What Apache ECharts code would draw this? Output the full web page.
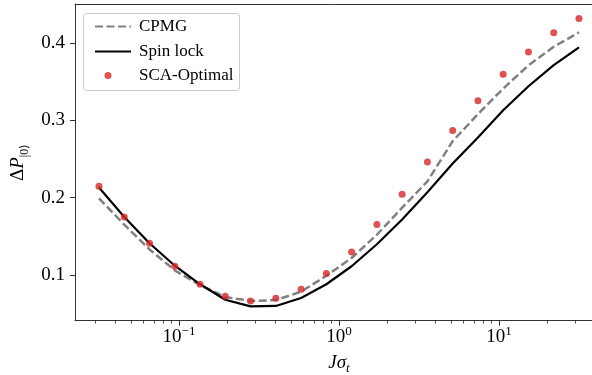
<!DOCTYPE html>
<html>
<head>
<meta charset="utf-8">
<script src="https://cdn.jsdelivr.net/npm/echarts@6/dist/echarts.min.js"></script>
<style>
html,body{margin:0;padding:0;background:#fff;}
#main{width:592px;height:375px;}
</style>
</head>
<body>
<div id="main"></div>
<script>
// J*sigma_t sample positions (log-spaced)
const jSigma = [0.03162, 0.04549, 0.06543, 0.09412, 0.1354, 0.1947, 0.2801, 0.4029, 0.5796, 0.8337,
                1.199, 1.725, 2.481, 3.569, 5.134, 7.385, 10.62, 15.28, 21.98, 31.61];
const cpmg     = [0.199, 0.165, 0.133, 0.106, 0.087, 0.0715, 0.0665, 0.0675, 0.0785, 0.099,
                  0.122, 0.152, 0.187, 0.221, 0.273, 0.308, 0.341, 0.371, 0.395, 0.4136];
const spinLock = [0.213, 0.175, 0.141, 0.112, 0.088, 0.068, 0.0595, 0.060, 0.0703, 0.088,
                  0.1113, 0.1397, 0.1717, 0.207, 0.244, 0.2777, 0.313, 0.344, 0.3713, 0.3942];
const scaOptimal = [0.2148, 0.175, 0.141, 0.1113, 0.088, 0.0725, 0.0664, 0.0699, 0.0816, 0.1018,
                    0.1298, 0.1652, 0.2044, 0.2462, 0.2868, 0.3251, 0.3596, 0.3881, 0.4131, 0.4317];
const xMajorTicks = [0.1, 1, 10];
const xMinorTicks = [0.03, 0.04, 0.05, 0.06, 0.07, 0.08, 0.09,
                     0.2, 0.3, 0.4, 0.5, 0.6, 0.7, 0.8, 0.9,
                     2, 3, 4, 5, 6, 7, 8, 9, 20, 30, 40];
const yTicks = [0.1, 0.2, 0.3, 0.4];
const seriesNames = ['CPMG', 'Spin lock', 'SCA-Optimal'];

const FONT = "'Liberation Serif','Times New Roman',serif";
const XMIN = Math.pow(10, -1.65), XMAX = Math.pow(10, 1.65);
const YMIN = 0.0409, YMAX = 0.4503;

const pairs = arr => jSigma.map((x, i) => [x, arr[i]]);
const supMap = {'-1': '\u22121', '0': '0', '1': '1'};

const chart = echarts.init(document.getElementById('main'), null, {renderer: 'canvas'});
chart.setOption({
  animation: false,
  backgroundColor: '#fff',
  grid: {left: 75, top: 4, width: 528, height: 316.7, containLabel: false, outerBoundsMode: 'none'},
  xAxis: [
    {
      type: 'log', logBase: 10, min: XMIN, max: XMAX, position: 'bottom',
      name: '{i|J\u03c3}{s|t}', nameLocation: 'middle', nameGap: 30,
      nameTextStyle: {
        color: '#000', fontFamily: FONT,
        rich: {
          i: {fontFamily: FONT, fontStyle: 'italic', fontSize: 19, lineHeight: 24, color: '#000'},
          s: {fontFamily: FONT, fontStyle: 'italic', fontSize: 13, lineHeight: 24, verticalAlign: 'bottom', color: '#000'}
        }
      },
      axisLine: {show: true, lineStyle: {color: '#333', width: 1}},
      axisTick: {show: true, inside: false, length: 5, customValues: xMajorTicks, lineStyle: {color: '#333', width: 1}},
      axisLabel: {
        show: true, margin: 4, customValues: xMajorTicks,
        formatter: v => {
          const e = String(Math.round(Math.log10(v)));
          return '{b|10}{s|' + (supMap[e] || e) + '}';
        },
        rich: {
          b: {fontFamily: FONT, fontSize: 19, lineHeight: 24, color: '#000'},
          s: {fontFamily: FONT, fontSize: 13, lineHeight: 24, verticalAlign: 'top', color: '#000'}
        }
      },
      splitLine: {show: false}
    },
    {
      type: 'log', logBase: 10, min: XMIN, max: XMAX, position: 'bottom',
      axisLine: {show: false},
      axisTick: {show: true, inside: false, length: 3, customValues: xMinorTicks, lineStyle: {color: '#333', width: 0.8}},
      axisLabel: {show: false},
      splitLine: {show: false}
    },
    {
      type: 'value', min: 0, max: 1, position: 'top',
      axisLine: {show: true, lineStyle: {color: '#333', width: 1}},
      axisTick: {show: false}, axisLabel: {show: false}, splitLine: {show: false}
    }
  ],
  yAxis: {
    type: 'value', min: YMIN, max: YMAX,
    name: '{d|\u0394}{i|P}{s||0\u27e9}', nameLocation: 'middle', nameGap: 42, nameRotate: 90,
    nameTextStyle: {
      color: '#000', fontFamily: FONT,
      rich: {
        d: {fontFamily: FONT, fontSize: 19, lineHeight: 24, color: '#000'},
        i: {fontFamily: FONT, fontStyle: 'italic', fontSize: 19, lineHeight: 24, color: '#000'},
        s: {fontFamily: FONT, fontSize: 12, lineHeight: 24, verticalAlign: 'bottom', color: '#000'}
      }
    },
    axisLine: {show: true, lineStyle: {color: '#333', width: 1}},
    axisTick: {show: true, inside: false, length: 5, customValues: yTicks, lineStyle: {color: '#333', width: 1}},
    axisLabel: {
      show: true, margin: 10, customValues: yTicks,
      formatter: v => v.toFixed(1),
      fontFamily: FONT, fontSize: 19, color: '#000'
    },
    splitLine: {show: false}
  },
  legend: [
    {
      data: ['CPMG', 'Spin lock'], orient: 'vertical', left: 89, top: 13,
      itemWidth: 36, itemHeight: 14, itemGap: 8,
      itemStyle: {opacity: 0},
      textStyle: {fontFamily: FONT, fontSize: 17, color: '#000', padding: [0, 0, 0, 3]}
    },
    {
      data: ['SCA-Optimal'], orient: 'vertical', left: 99.5, top: 62,
      itemWidth: 36, itemHeight: 7,
      textStyle: {fontFamily: FONT, fontSize: 17, color: '#000', padding: [0, 0, 0, 8]}
    }
  ],
  graphic: [{
    type: 'rect', left: 83, top: 13, z: 0,
    shape: {width: 156, height: 77, r: 3},
    style: {fill: 'rgba(255,255,255,0.8)', stroke: '#cccccc', lineWidth: 1}
  }],
  series: [
    {
      name: seriesNames[0], type: 'line', xAxisIndex: 0, data: pairs(cpmg),
      symbol: 'none', showSymbol: false,
      lineStyle: {color: '#808080', width: 2.5, type: [8, 3.5]},
      itemStyle: {color: '#808080'}, z: 2
    },
    {
      name: seriesNames[1], type: 'line', xAxisIndex: 0, data: pairs(spinLock),
      symbol: 'none', showSymbol: false,
      lineStyle: {color: '#000000', width: 2.2, type: 'solid'},
      itemStyle: {color: '#000000'}, z: 3
    },
    {
      name: seriesNames[2], type: 'scatter', xAxisIndex: 0, data: pairs(scaOptimal),
      symbol: 'circle', symbolSize: 7,
      itemStyle: {color: '#d62728'}, z: 4
    }
  ]
});
</script>
</body>
</html>
